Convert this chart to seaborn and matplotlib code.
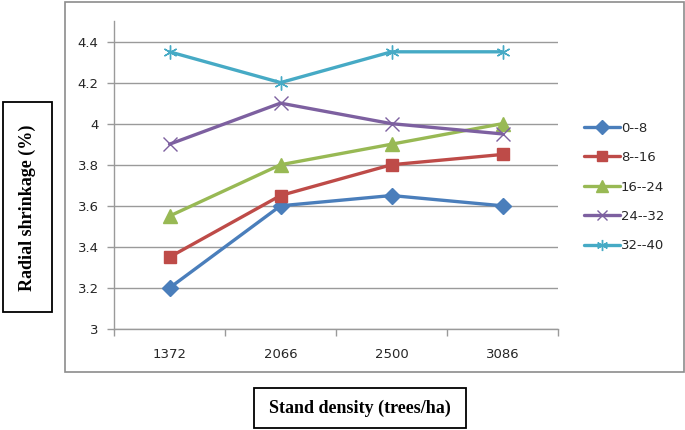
import matplotlib
matplotlib.use("Agg")
import matplotlib.pyplot as plt
import seaborn as sns
import pandas as pd
from matplotlib.patches import Rectangle

categories = ["1372", "2066", "2500", "3086"]
series_names = ["0--8", "8--16", "16--24", "24--32", "32--40"]
s_0_8 = [3.2, 3.6, 3.65, 3.6]
s_8_16 = [3.35, 3.65, 3.8, 3.85]
s_16_24 = [3.55, 3.8, 3.9, 4.0]
s_24_32 = [3.9, 4.1, 4.0, 3.95]
s_32_40 = [4.35, 4.2, 4.35, 4.35]
y_ticks = [3, 3.2, 3.4, 3.6, 3.8, 4, 4.2, 4.4]
y_tick_labels = ["3", "3.2", "3.4", "3.6", "3.8", "4", "4.2", "4.4"]

colors = ["#4A7EBB", "#BE4B48", "#98B954", "#7D60A0", "#46AAC5"]
markers = ["D", "s", "^", "x", (6, 2, 0)]
msizes = [8.5, 9, 10, 9.5, 10]

rows = []
for name, vals in zip(series_names, [s_0_8, s_8_16, s_16_24, s_24_32, s_32_40]):
    for i, (c, v) in enumerate(zip(categories, vals)):
        rows.append({"pos": i, "cat": c, "val": v, "series": name})
df = pd.DataFrame(rows)

sns.set_theme(style="white")
plt.rcParams["font.family"] = ["DejaVu Sans"]

fig = plt.figure(figsize=(6.85, 4.3), dpi=100)
ax = fig.add_axes([114 / 685, 1 - 329 / 430, (558 - 114) / 685, (329 - 21) / 430])

for name, col, m, ms in zip(series_names, colors, markers, msizes):
    sub = df[df["series"] == name]
    filled = m in ("D", "s", "^")
    kw = dict(markeredgecolor=col, markerfacecolor=col) if filled else dict(markeredgecolor=col)
    sns.lineplot(data=sub, x="pos", y="val", color=col, marker=m, markersize=ms,
                 markeredgewidth=1.0, linewidth=2.4, label=name, ax=ax, **kw)

ax.set_xlim(-0.5, 3.5)
ax.set_ylim(3, 4.5)
ax.set_xticks(range(len(categories)))
ax.set_xticklabels(categories)
ax.set_xticks([-0.5, 0.5, 1.5, 2.5, 3.5], minor=True)
ax.set_yticks(y_ticks)
ax.set_yticklabels(y_tick_labels)
ax.set_xlabel("")
ax.set_ylabel("")

gc = "#9A9A9A"
ax.yaxis.grid(True, color=gc, linewidth=1)
ax.xaxis.grid(False)
ax.set_axisbelow(True)
for s in ["top", "right"]:
    ax.spines[s].set_visible(False)
for s in ["left", "bottom"]:
    ax.spines[s].set_color(gc)
    ax.spines[s].set_linewidth(1)

ax.tick_params(axis="x", which="major", length=0, pad=14, labelsize=9.5, labelcolor="#262626")
ax.tick_params(axis="x", which="minor", length=5, width=1, color=gc, direction="out", bottom=True)
ax.tick_params(axis="y", which="major", length=5, width=1, color=gc, direction="out", left=True,
               pad=6, labelsize=9.5, labelcolor="#262626")

handles, labels = ax.get_legend_handles_labels()
leg = ax.legend(handles, labels, loc="center left", bbox_to_anchor=(584 / 685, 1 - 187 / 430),
                bbox_transform=fig.transFigure, frameon=False, fontsize=9.5,
                handlelength=2.7, handletextpad=0.1, labelspacing=1.25, borderpad=0, borderaxespad=0,
                markerscale=0.8)
for t in leg.get_texts():
    t.set_color("#262626")

# outer chart frame
fig.patches.append(Rectangle((65 / 685, 1 - 372 / 430), (684 - 65) / 685, (372 - 2) / 430,
                             transform=fig.transFigure, fill=False, edgecolor="#8C8C8C",
                             linewidth=1.2, figure=fig))
# y label box
fig.patches.append(Rectangle((3 / 685, 1 - 312 / 430), 49 / 685, 210 / 430,
                             transform=fig.transFigure, fill=False, edgecolor="black",
                             linewidth=1.3, figure=fig))
fig.text(27.5 / 685, 1 - 208 / 430, "Radial shrinkage (%)", rotation=90, ha="center", va="center",
         family=["Liberation Serif", "DejaVu Serif"], fontweight="bold", fontsize=13, color="black")
# x label box
fig.patches.append(Rectangle((254 / 685, 1 - 428 / 430), 212 / 685, 40 / 430,
                             transform=fig.transFigure, fill=False, edgecolor="black",
                             linewidth=1.3, figure=fig))
fig.text(360 / 685, 1 - 408 / 430, "Stand density (trees/ha)", ha="center", va="center",
         family=["Liberation Serif", "DejaVu Serif"], fontweight="bold", fontsize=13, color="black")

fig.savefig("out.png", dpi=100)
